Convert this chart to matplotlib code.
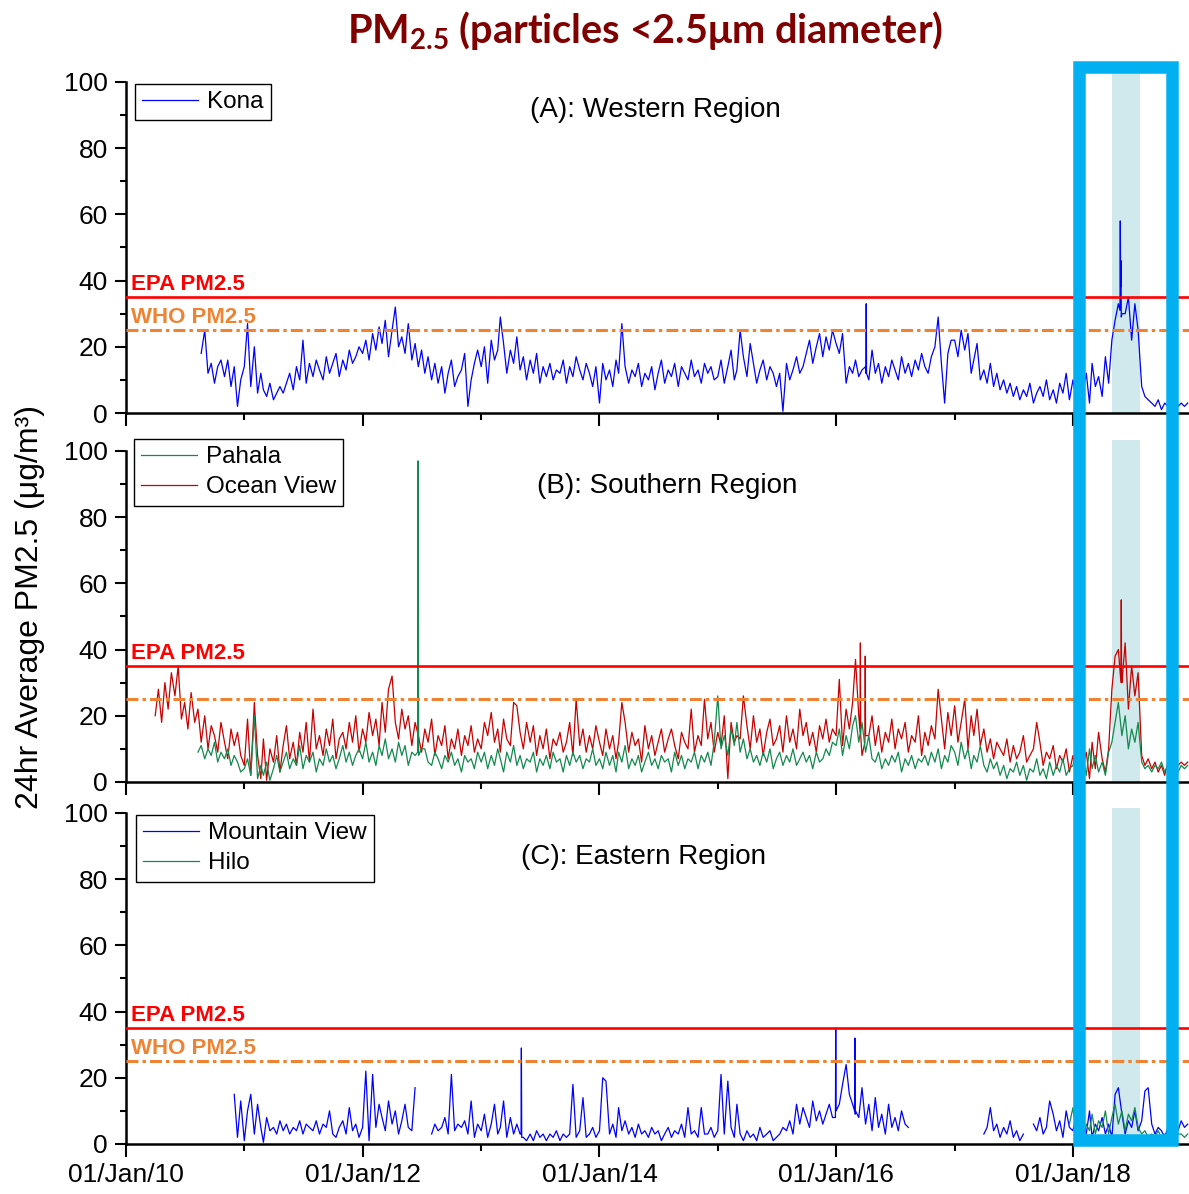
import numpy as np
import pandas as pd
import matplotlib
matplotlib.use("Agg")
import matplotlib.pyplot as plt
import matplotlib.dates as mdates
from matplotlib.patches import Rectangle

nan = np.nan

kona_start = "2010-08"
kona = [
    nan, nan, 18, 25, 12, 15, 9, 14, 16, 11, 16, 8, 14, 2, 10,
    14, 27, 8, 20, 6, 12, 7, 5, 9, 4, 6, 8, 6, 9, 12, 7, 14, 10, 22, 9, 15, 11, 16, 13, 10, 17, 12, 15, 18, 11, 16, 13, 19, 15, 17, 20,
    18, 22, 16, 24, 19, 26, 21, 28, 17, 25, 32, 20, 23, 18, 27, 16, 21, 14, 19, 12, 17, 10, 15, 9, 14, 6, 12, 16, 8, 11, 13, 18, 2, 10, 15, 19,
    14, 20, 9, 22, 16, 19, 29, 21, 12, 19, 15, 23, 13, 17, 10, 16, 12, 18, 9, 14, 11, 15, 10, 13, 12, 16, 9, 14, 11, 17, 13, 10, 15, 12, 8, 14,
    3, 15, 10, 13, 8, 16, 12, 27, 14, 9, 13, 11, 15, 8, 12, 10, 14, 7, 12, 16, 9, 13, 11, 15, 8, 14, 12, 10, 16, 11, 13, 9, 15, 12, 14, 10,
    11, 16, 9, 14, 19, 10, 13, 25, 17, 11, 21, 15, 9, 13, 16, 10, 14, 12, 8, 12, 0.5, 15, 10, 13, 17, 12, 14, 18, 22, 15, 20, 24, 17, 23, 19, 25,
    21, 18, 24, 9, 14, 12, 16, 11, 13, 14, 10, 19, 12, 15, 9, 14, 11, 16, 13, 10, 17, 12, 15, 11, 16, 13, 18, 14, 12, 17, 20, 29, 15, 3, 18, 22,
    22, 17, 25, 19, 24, 12, 16, 21, 10, 13, 9, 15, 8, 12, 7, 10, 6, 9, 5, 8, 4, 7, 5, 9, 3, 6, 8, 5, 10, 4, 7, 3, 9, 6, 12, 4,
    10, 4, 14, 7, 12, 3, 15, 8, 11, 5, 17, 9, 22, 28, 33, 30, 30, 35, 22, 33, 25, 8, 5, 4, 3, 2, 4, 1, 3, 2, 3, 1, 2, 3, 2, 3,
]
# single-day spikes that fall between the 10-day readings
kona_spikes = [("2016-04-02", 12), ("2016-04-03", 33), ("2016-04-04", 12),
               ("2018-05-26", 31), ("2018-05-27", 58), ("2018-05-28", 38), ("2018-05-29", 46), ("2018-05-30", 29)]

ocean_start = "2010-04"
ocean_view = [
    20, 28, 18, 30, 22, 33, 26, 35, 19, 24, 16, 27, 18, 22, 12, 20, 10, 17, 14, 9, 18, 12, 7, 16, 11, 15, 8,
    5, 19, 2, 24, 8, 1, 13, 0.5, 10, 6, 14, 3, 11, 17, 7, 12, 5, 15, 9, 18, 6, 22, 10, 14, 8, 16, 11, 19, 7, 13, 15, 10, 18, 12, 20, 9,
    16, 12, 21, 14, 19, 11, 24, 15, 28, 32, 18, 13, 22, 16, 20, 11, 18, 14, 9, 16, 12, 19, 8, 14, 11, 17, 7, 13, 10, 16, 8, 14, 11, 17, 9, 13,
    10, 18, 14, 21, 12, 16, 9, 19, 13, 11, 24, 23, 15, 10, 18, 12, 17, 8, 14, 10, 16, 7, 13, 11, 15, 9, 12, 18, 8, 25, 11, 16, 9, 14, 10, 17,
    12, 8, 16, 10, 14, 7, 12, 24, 18, 9, 15, 11, 13, 6, 17, 10, 14, 8, 12, 16, 9, 13, 16, 11, 7, 15, 12, 10, 22, 9, 14, 11, 25, 13, 18, 9,
    15, 11, 20, 1, 18, 12, 14, 13, 26, 17, 10, 20, 12, 16, 8, 15, 19, 11, 13, 17, 9, 20, 12, 16, 10, 22, 14, 18, 11, 15, 9, 17, 13, 19, 12, 16,
    14, 31, 11, 22, 16, 24, 37, 20, 8, 14, 14, 20, 11, 17, 9, 15, 12, 19, 10, 16, 13, 18, 9, 14, 12, 20, 8, 15, 11, 17, 13, 28, 19, 10, 21, 14,
    23, 12, 18, 25, 10, 20, 14, 22, 11, 16, 9, 13, 7, 12, 10, 8, 13, 6, 11, 7, 9, 14, 6, 8, 10, 18, 12, 5, 9, 7, 11, 4, 8, 6, 10, 3,
    8, 2, 11, 5, 9, 1, 12, 4, 15, 7, 3, 10, 28, 38, 40, 30, 42, 22, 35, 26, 33, 8, 5, 7, 4, 6, 3, 5, 2, 6, 4, 3, 5, 6, 5, 6,
]
ocean_spikes = [("2016-03-15", 15), ("2016-03-16", 42), ("2016-03-17", 14),
                ("2016-03-30", 12), ("2016-03-31", 38),
                ("2018-05-29", 30), ("2018-05-30", 55), ("2018-05-31", 32)]

pahala_start = "2010-08"
pahala = [
    nan, 9, 11, 7, 10, 8, 12, 6, 9, 7, 10, 5, 8, 6, 3,
    4, 7, 2, 20, 1, 5, 2, 6, 0.5, 4, 8, 3, 6, 9, 4, 7, 5, 11, 4, 8, 6, 9, 3, 7, 5, 10, 6, 8, 4, 7, 11, 6, 9, 5, 8, 10,
    7, 12, 6, 9, 5, 11, 8, 13, 7, 10, 6, 12, 8, 11, 5, 9, 8, 9, 10, 10, 6, 5, 9, 7, 4, 8, 6, 9, 5, 7, 3, 8, 6, 7, 4, 9,
    6, 9, 4, 8, 5, 10, 7, 3, 9, 6, 11, 5, 8, 4, 7, 6, 9, 3, 7, 5, 8, 4, 9, 6, 7, 3, 8, 5, 9, 6, 8, 4, 7, 6, 10, 5,
    7, 4, 9, 5, 8, 3, 9, 6, 11, 4, 7, 5, 8, 3, 6, 9, 5, 7, 4, 8, 6, 7, 3, 9, 5, 8, 4, 7, 6, 9, 4, 8, 6, 9, 5, 12,
    26, 10, 14, 8, 16, 11, 18, 9, 13, 7, 10, 6, 8, 5, 9, 6, 10, 4, 7, 9, 5, 8, 6, 10, 5, 7, 9, 6, 8, 4, 9, 6, 7, 10, 8, 12,
    11, 16, 8, 14, 10, 17, 20, 12, 18, 9, 14, 7, 6, 9, 4, 7, 5, 8, 6, 9, 3, 7, 5, 8, 4, 7, 6, 8, 5, 9, 6, 10, 4, 8, 6, 11,
    9, 5, 12, 7, 10, 4, 8, 6, 11, 5, 3, 7, 4, 6, 2, 5, 1, 4, 3, 6, 2, 5, 0.5, 4, 3, 7, 2, 4, 1, 6, 2, 5, 3, 7, 2, 4,
    5, 9, 3, 7, 2, 10, 4, 8, 3, 6, 2, 9, 12, 18, 24, 14, 20, 10, 16, 12, 18, 6, 4, 5, 3, 5, 4, 6, 3, 5, 4, 6, 3, 5, 4, 5,
]
pahala_spikes = [("2012-06-19", 9), ("2012-06-20", 97), ("2012-06-21", 60), ("2012-06-22", 8)]

mountain_start = "2010-12"
mountain_view = [
    15, 2, 13,
    1, 10, 15, 3, 12, 5, 0.5, 8, 4, 5, 3, 7, 4, 6, 3, 5, 4, 7, 3, 6, 5, 4, 7, 3, 6, 5, 10, 3, 2, 5, 7, 3, 11, 4, 6, 2,
    5, 22, 1, 21, 5, 12, 8, 4, 13, 6, 10, 3, 7, 12, 5, 4, 17, nan, nan, nan, nan, 3, 6, 4, 5, 8, 3, 21, 4, 6, 5, 7, 3, 13, 2, 6,
    4, 9, 2, 6, 12, 3, 5, 13, 2, 8, 3, 6, 3, 2, 1, 3, 1, 4, 2, 3, 1, 3, 2, 4, 1, 3, 2, 3, 18, 2, 4, 14, 2, 3, 5, 2,
    4, 20, 19, 3, 6, 2, 11, 4, 7, 3, 5, 2, 6, 3, 4, 2, 5, 3, 4, 1, 3, 5, 2, 4, 3, 6, 2, 11, 3, 4, 2, 11, 3, 3, 5, 2,
    4, 21, 3, 19, 5, 2, 12, 3, 1, 4, 2, 3, 1, 5, 2, 3, 4, 1, 2, 3, 5, 4, 7, 3, 12, 6, 11, 8, 5, 13, 7, 10, 6, 9, 12, 8,
    10, 12, 18, 24, 15, 12, 10, 8, 17, 6, 12, 4, 14, 5, 9, 3, 12, 5, 8, 4, 10, 6, 5, nan,
    nan, nan, nan, nan, nan, nan, nan, nan, nan, nan, nan, nan,
    nan, nan, nan, nan, nan, nan, nan, nan, nan, 3, 5, 11, 4, 6, 2, 5, 3, 7, 2, 4, 1, 3, nan, nan, 6, 4, 8, 3, 5, 13, 9, 4, 7, 2, 10, 5,
    4, 9, 2, 7, 3, 10, 2, 6, 4, 8, 3, 6, 2, 15, 17, 9, 3, 7, 5, 10, 4, 7, 16, 17, 6, 3, 5, 4, 2, 5, 3, 6, 4, 7, 5, 6,
]
mountain_spikes = [("2013-05-04", 3), ("2013-05-05", 29), ("2013-05-06", 2),
                   ("2015-12-30", 8), ("2015-12-31", 35),
                   ("2016-02-27", 10), ("2016-02-28", 32), ("2016-02-29", 9)]

hilo_start = "2017-12"
hilo = [
    nan, nan, 6,
    11, 3, 8, 2, 6, 4, 9, 3, 7, 5, 10, 3, 8, 12, 6, 10, 4, 9, 7, 11, 5, 3, 4, 2, 3, 2, 4, 2, 3, 2, 4, 2, 3, 3, 2, 3,
]

epa_limit = 35
who_limit = 25
eruption = ("2018-05-01", "2018-07-28")
x_range = ("2010-01-01", "2018-12-25")


def dekads(start, n):
    months = pd.period_range(start, periods=n // 3 + 1, freq="M")
    days = [m.to_timestamp() + pd.Timedelta(days=d) for m in months for d in (0, 10, 20)]
    return days[:n]


def series(start, values, spikes=()):
    s = pd.Series(values, index=dekads(start, len(values)), dtype=float)
    if spikes:
        extra = pd.Series([v for d, v in spikes], index=pd.to_datetime([d for d, v in spikes]), dtype=float)
        s = pd.concat([s, extra]).sort_index()
    return s


plt.rcParams['font.family'] = ['Liberation Sans', 'DejaVu Sans']
plt.rcParams['mathtext.fontset'] = 'custom'
plt.rcParams['mathtext.rm'] = 'Lato:bold'
plt.rcParams['mathtext.it'] = 'Lato:bold'
plt.rcParams['mathtext.bf'] = 'Lato:bold'

BLUE = '#0000FF'
RED = '#C80000'
GREEN = '#12894E'
ORANGE = '#EE8433'

fig = plt.figure(figsize=(11.89, 11.94), dpi=100)
left = 126 / 1189
width = 1 - left
ax_a = fig.add_axes([left, 0.6541, width, 0.2848])
ax_b = fig.add_axes([left, 0.3451, width, 0.2864])
ax_c = fig.add_axes([left, 0.0419, width, 0.2814])
tops = [102.7, 103.3, 101.5]

s = series(kona_start, kona, kona_spikes)
la, = ax_a.plot(s.index, s.values, color=BLUE, lw=0.9)
s = series(ocean_start, ocean_view, ocean_spikes)
lo, = ax_b.plot(s.index, s.values, color=RED, lw=0.9)
s = series(pahala_start, pahala, pahala_spikes)
lp, = ax_b.plot(s.index, s.values, color=GREEN, lw=0.9)
s = series(mountain_start, mountain_view, mountain_spikes)
lm, = ax_c.plot(s.index, s.values, color=BLUE, lw=0.9)
s = series(hilo_start, hilo)
lh, = ax_c.plot(s.index, s.values, color=GREEN, lw=0.9)

leg_kw = dict(loc='upper left', fontsize=17.5, frameon=True, fancybox=False, framealpha=1,
              edgecolor='black', borderpad=0.3, handlelength=2.3, handletextpad=0.35,
              labelspacing=0.33, borderaxespad=0)
ax_a.legend([la], ['Kona'], bbox_to_anchor=(0.0085, 0.968), **leg_kw).get_frame().set_linewidth(1)
ax_b.legend([lp, lo], ['Pahala', 'Ocean View'], bbox_to_anchor=(0.0075, 1.003), **leg_kw).get_frame().set_linewidth(1)
ax_c.legend([lm, lh], ['Mountain View', 'Hilo'], bbox_to_anchor=(0.0095, 0.979), **leg_kw).get_frame().set_linewidth(1)

titles = ['(A): Western Region', '(B): Southern Region', '(C): Eastern Region']
title_pos = [(0.498, 0.891), (0.509, 0.865), (0.487, 0.854)]

lw_who = 2.2
for i, ax in enumerate([ax_a, ax_b, ax_c]):
    ax.axvspan(pd.Timestamp(eruption[0]), pd.Timestamp(eruption[1]), color='#CFE9EC', zorder=0, lw=0)
    ax.axhline(epa_limit, color='#FF0000', lw=1.9, zorder=3)
    ax.axhline(who_limit, color=ORANGE, lw=lw_who, zorder=3,
               linestyle=(0, (8.6 / lw_who, 2.9 / lw_who, 2.5 / lw_who, 2.9 / lw_who)))
    ax.text(0.005, 37, 'EPA PM2.5', transform=ax.get_yaxis_transform(), color='#FF0000',
            fontsize=16, fontweight='bold', va='baseline', ha='left')
    if i != 1:
        ax.text(0.005, 27.2, 'WHO PM2.5', transform=ax.get_yaxis_transform(), color=ORANGE,
                fontsize=16, fontweight='bold', va='baseline', ha='left')
    ax.text(title_pos[i][0], title_pos[i][1], titles[i], transform=ax.transAxes,
            fontsize=20, ha='center', va='center')

    ax.set_xlim(pd.Timestamp(x_range[0]), pd.Timestamp(x_range[1]))
    ax.set_ylim(0, tops[i])
    ax.set_yticks(np.arange(0, 101, 20))
    ax.set_yticks(np.arange(10, 100, 20), minor=True)
    ax.xaxis.set_major_locator(mdates.YearLocator(2))
    ax.xaxis.set_minor_locator(mdates.YearLocator(1))
    ax.xaxis.set_major_formatter(mdates.DateFormatter('%d/%b/%y'))
    for side in ['top', 'right']:
        ax.spines[side].set_visible(False)
    for side in ['left', 'bottom']:
        ax.spines[side].set_linewidth(1.8)
    ax.spines['left'].set_bounds(0, 100)
    ax.tick_params(axis='y', which='major', length=8, width=1.5, labelsize=19, pad=5)
    ax.tick_params(axis='y', which='minor', length=4.5, width=1.5)
    ax.tick_params(axis='x', which='major', length=9.6, width=1.5, labelsize=19, pad=4)
    ax.tick_params(axis='x', which='minor', length=5, width=1.5)
    if i != 2:
        ax.tick_params(axis='x', labelbottom=False)
    ax.set_facecolor('none')

fig.text(30 / 1189, 1 - 607 / 1194, '24hr Average PM2.5 (μg/m³)', rotation=90,
         fontsize=23, ha='center', va='center')
fig.text(645 / 1189, 1 - 43 / 1194, r'PM$_\mathrm{2.5}$ (particles <2.5μm diameter)',
         fontfamily='Lato', fontweight='bold', fontsize=28.5, color='#800000',
         ha='center', va='baseline')

# highlight box around the 2018 eruption period
fig.add_artist(Rectangle((1078.5 / 1189, 1 - 1140 / 1194), (1172 - 1078.5) / 1189, (1140 - 67) / 1194,
                         transform=fig.transFigure, fill=False, edgecolor='#00B0F0', lw=9, zorder=10))

fig.savefig('out.png', dpi=100)
